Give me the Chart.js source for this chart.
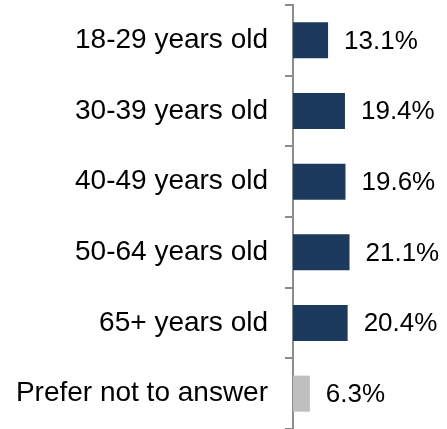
<!DOCTYPE html>
<html lang="en">
  <head>
    <meta charset="UTF-8" />
    <title>Age groups</title>
    <script src="https://cdn.jsdelivr.net/npm/chart.js@4.4.1/dist/chart.umd.min.js"></script>
    <style>
      html, body {
        margin: 0;
        padding: 0;
        background: #fff;
      }
      #wrap {
        width: 447px;
        height: 429px;
      }
    </style>
  </head>
  <body>
    <div id="wrap">
      <canvas id="ageChart" width="447" height="429"></canvas>
    </div>

    <script>
      const categories = [
        "18-29 years old",
        "30-39 years old",
        "40-49 years old",
        "50-64 years old",
        "65+ years old",
        "Prefer not to answer",
      ];
      const shares = [13.1, 19.4, 19.6, 21.1, 20.4, 6.3];
      const valueLabels = ["13.1%", "19.4%", "19.6%", "21.1%", "20.4%", "6.3%"];
      const barColors = ["#1b3a5e", "#1b3a5e", "#1b3a5e", "#1b3a5e", "#1b3a5e", "#bfbfbf"];

      const FONT = '"Liberation Sans", Arial, sans-serif';

      // draws the percent next to each bar end
      const valueLabelPlugin = {
        id: "valueLabels",
        afterDatasetsDraw(chart) {
          const ctx = chart.ctx;
          const meta = chart.getDatasetMeta(0);
          ctx.save();
          ctx.font = "26px " + FONT;
          ctx.fillStyle = "#000";
          ctx.textAlign = "left";
          ctx.textBaseline = "middle";
          meta.data.forEach((bar, i) => {
            ctx.fillText(valueLabels[i], bar.x + 16, bar.y + 1);
          });
          ctx.restore();
        },
      };

      new Chart(document.getElementById("ageChart"), {
        type: "bar",
        data: {
          labels: categories,
          datasets: [
            {
              data: shares,
              backgroundColor: barColors,
              barPercentage: 0.51,
              categoryPercentage: 1,
            },
          ],
        },
        options: {
          indexAxis: "y",
          responsive: false,
          animation: false,
          layout: {
            autoPadding: false,
            padding: { top: 5, bottom: 0, left: 0, right: 0 },
          },
          plugins: {
            legend: { display: false },
            tooltip: { enabled: false },
          },
          scales: {
            x: {
              display: false,
              min: 0,
              max: 57.5,
            },
            y: {
              afterFit(scale) {
                scale.width = 293;
                scale.paddingTop = 0;
                scale.paddingBottom = 0;
              },
              border: { display: true, color: "#8c8c8c", width: 2 },
              grid: {
                drawOnChartArea: false,
                drawTicks: true,
                tickLength: 8,
                color: "#8c8c8c",
                lineWidth: 2,
              },
              ticks: {
                color: "#000",
                padding: 17,
                font: { family: FONT, size: 28 },
              },
            },
          },
        },
        plugins: [valueLabelPlugin],
      });
    </script>
  </body>
</html>
